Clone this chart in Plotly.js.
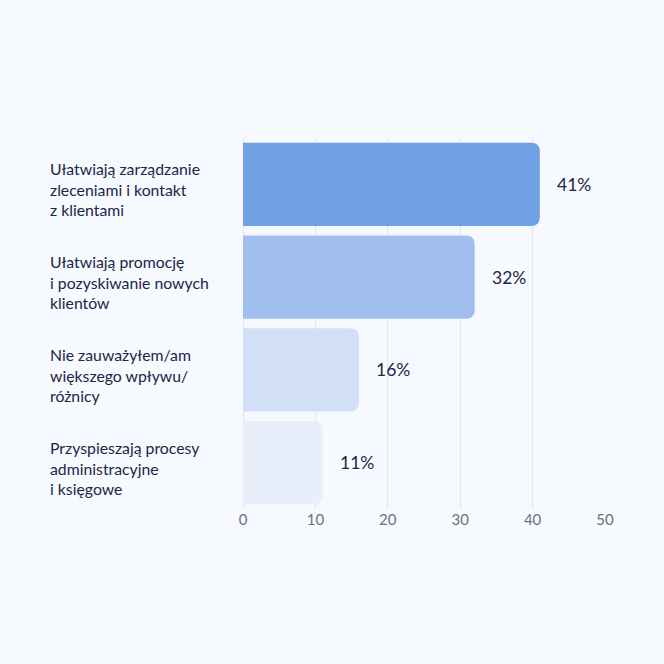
<!DOCTYPE html>
<html>
<head>
<meta charset="utf-8">
<script src="https://cdn.plot.ly/plotly-3.0.1.min.js"></script>
<style>
  html, body { margin: 0; padding: 0; background: #f6f9fe; }
  #chart { width: 664px; height: 664px; }
</style>
</head>
<body>
<div id="chart"></div>
<script>
'use strict';

var categories = [
	'Ułatwiają zarządzanie<br>zleceniami i kontakt<br>z klientami',
	'Ułatwiają promocję<br>i pozyskiwanie nowych<br>klientów',
	'Nie zauważyłem/am<br>większego wpływu/<br>różnicy',
	'Przyspieszają procesy<br>administracyjne<br>i księgowe'
];
var values = [41, 32, 16, 11];
var barColors = ['#70a1e4', '#a1bfee', '#d1e0f7', '#e8eefa'];
var tickVals = [0, 10, 20, 30, 40, 50];

var ink = '#1c2647';
var font = 'Lato, "Noto Sans", sans-serif';

var data = [{
	type: 'bar',
	orientation: 'h',
	y: categories,
	x: values,
	marker: { color: barColors, cornerradius: 8 },
	hoverinfo: 'none'
}];

var annotations = [];
// category labels, left aligned at the page edge
categories.forEach(function (c) {
	annotations.push({
		xref: 'paper', yref: 'y',
		x: -0.538, y: c,
		xanchor: 'left', yanchor: 'middle',
		yshift: -5,
		align: 'left',
		text: c,
		showarrow: false,
		font: { family: font, size: 15.8, color: ink }
	});
});
// value labels next to the bars
values.forEach(function (v, i) {
	annotations.push({
		xref: 'x', yref: 'y',
		x: v, y: categories[i],
		xanchor: 'left', yanchor: 'middle',
		xshift: 15,
		text: v + '%',
		showarrow: false,
		font: { family: font, size: 17.5, color: ink }
	});
});

var layout = {
	width: 664,
	height: 664,
	margin: { l: 243, r: 59, t: 138, b: 155 },
	paper_bgcolor: '#f6f9fe',
	plot_bgcolor: '#f6f9fe',
	bargap: 0.1,
	showlegend: false,
	xaxis: {
		range: [0, 50],
		tickvals: tickVals,
		showgrid: true,
		gridcolor: '#e1e5ec',
		gridwidth: 1,
		zeroline: true,
		zerolinecolor: '#e1e5ec',
		zerolinewidth: 1,
		showline: false,
		ticks: '',
		tickfont: { family: font, size: 15, color: '#6b7180' },
		fixedrange: true
	},
	yaxis: {
		autorange: 'reversed',
		showticklabels: false,
		showgrid: false,
		zeroline: false,
		showline: false,
		ticks: '',
		fixedrange: true
	},
	annotations: annotations
};

Plotly.newPlot('chart', data, layout, { displayModeBar: false, staticPlot: true });
</script>
</body>
</html>
